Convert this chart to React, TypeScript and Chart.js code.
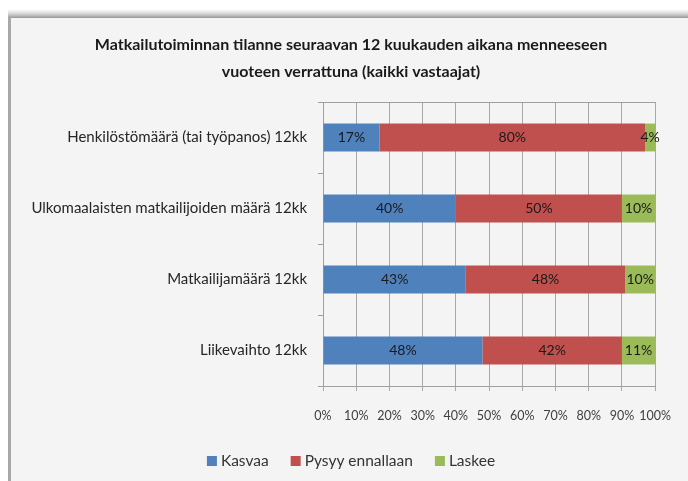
import React, { useEffect, useRef } from "react";
import { Chart, registerables } from "chart.js";

Chart.register(...registerables);

const titleLines = [
  "Matkailutoiminnan tilanne seuraavan 12 kuukauden aikana menneeseen",
  "vuoteen verrattuna (kaikki vastaajat)",
];
const categories = [
  "Henkilöstömäärä (tai työpanos) 12kk",
  "Ulkomaalaisten matkailijoiden määrä 12kk",
  "Matkailijamäärä 12kk",
  "Liikevaihto 12kk",
];
const seriesNames = ["Kasvaa", "Pysyy ennallaan", "Laskee"];
const kasvaa = [17, 40, 43, 48];
const pysyy = [80, 50, 48, 42];
const laskee = [4, 10, 10, 11];
const colors = ["#4f81bd", "#c0504d", "#9bbb59"];

const FONT = "Lato, 'Liberation Sans', sans-serif";

const framePlugin = {
  id: "frame",
  beforeDraw(chart: any) {
    const { ctx, width, height } = chart;
    ctx.save();
    ctx.fillStyle = "#ffffff";
    ctx.fillRect(0, 0, width, height);
    const g = ctx.createLinearGradient(0, 9, 0, 18);
    g.addColorStop(0, "rgba(200,200,200,0)");
    g.addColorStop(1, "rgba(150,150,150,1)");
    ctx.fillStyle = g;
    ctx.fillRect(8, 9, width - 8, 9);
    ctx.fillStyle = "#a8a8a8";
    ctx.fillRect(8, 17, 3, height - 17);
    ctx.fillStyle = "#f4f4f4";
    ctx.fillRect(11, 18, width - 11, height - 18);
    ctx.fillStyle = "#1a1a1a";
    ctx.font = `bold 16px ${FONT}`;
    ctx.textAlign = "center";
    ctx.textBaseline = "middle";
    ctx.fillText(titleLines[0], 351, 45);
    ctx.fillText(titleLines[1], 351, 72);
    ctx.restore();
  },
  afterDraw(chart: any) {
    const { ctx, chartArea } = chart;
    ctx.save();
    ctx.strokeStyle = "#a0a0a0";
    ctx.lineWidth = 1;
    ctx.beginPath();
    ctx.moveTo(chartArea.left, Math.round(chartArea.top) + 0.5);
    ctx.lineTo(chartArea.right, Math.round(chartArea.top) + 0.5);
    ctx.stroke();
    // legend
    ctx.font = `15.5px ${FONT}`;
    ctx.textBaseline = "middle";
    ctx.textAlign = "left";
    const box = 10;
    const gap = 4;
    const itemGap = 22;
    const ds = chart.data.datasets;
    const widths = ds.map((d: any) => box + gap + ctx.measureText(d.label).width);
    const total = widths.reduce((a: number, b: number) => a + b, 0) + itemGap * (ds.length - 1);
    let x = 351 - total / 2;
    const y = 461;
    ds.forEach((d: any, i: number) => {
      ctx.fillStyle = d.backgroundColor;
      ctx.fillRect(x, y - box / 2, box, box);
      ctx.fillStyle = "#333333";
      ctx.fillText(d.label, x + box + gap, y);
      x += widths[i] + itemGap;
    });
    ctx.restore();
  },
};

const labelPlugin = {
  id: "barLabels",
  afterDatasetsDraw(chart: any) {
    const { ctx } = chart;
    ctx.save();
    ctx.fillStyle = "#1a1a1a";
    ctx.font = `14px ${FONT}`;
    ctx.textAlign = "center";
    ctx.textBaseline = "middle";
    chart.data.datasets.forEach((ds: any, di: number) => {
      const meta = chart.getDatasetMeta(di);
      meta.data.forEach((el: any, i: number) => {
        const right = Math.min(el.x, chart.chartArea.right);
        const cx = (right + el.base) / 2;
        ctx.fillText(ds.data[i] + "%", cx, el.y);
      });
    });
    ctx.restore();
  },
};

export default function App() {
  const ref = useRef<HTMLCanvasElement>(null);
  useEffect(() => {
    if (!ref.current) return;
    const chart = new Chart(ref.current, {
      type: "bar",
      data: {
        labels: categories,
        datasets: [kasvaa, pysyy, laskee].map((d, i) => ({
          label: seriesNames[i],
          data: d,
          backgroundColor: colors[i],
          borderWidth: 0,
          categoryPercentage: 0.8,
          barPercentage: 0.49,
        })),
      },
      options: {
        indexAxis: "y",
        animation: false,
        responsive: false,
        maintainAspectRatio: false,
        layout: { padding: { left: 8, right: 29, top: 102, bottom: 55 } },
        plugins: {
          title: { display: false },
          tooltip: { enabled: false },
          legend: { display: false },
        },
        scales: {
          x: {
            stacked: true,
            min: 0,
            max: 100,
            ticks: {
              stepSize: 10,
              callback: (v: any) => v + "%",
              color: "#404040",
              font: { family: FONT, size: 12.5 },
              padding: 17,
              maxRotation: 0,
              autoSkip: false,
            },
            grid: { color: "#a8a8a8", tickLength: 5, drawTicks: true },
            border: { color: "#a0a0a0" },
            afterFit: (s: any) => {
              s.height = 40;
            },
          },
          y: {
            stacked: true,
            ticks: {
              color: "#262626",
              font: { family: FONT, size: 15 },
              padding: 11,
            },
            grid: {
              offset: true,
              drawOnChartArea: false,
              tickLength: 5,
              color: "#a0a0a0",
            },
            border: { color: "#a0a0a0" },
            afterFit: (s: any) => {
              s.width = 315;
            },
          },
        },
      },
      plugins: [framePlugin, labelPlugin],
    });
    return () => chart.destroy();
  }, []);
  return (
    <div style={{ position: "absolute", left: 0, top: 0, width: 688, height: 481 }}>
      <canvas ref={ref} width={688} height={481} style={{ display: "block" }} />
    </div>
  );
}
